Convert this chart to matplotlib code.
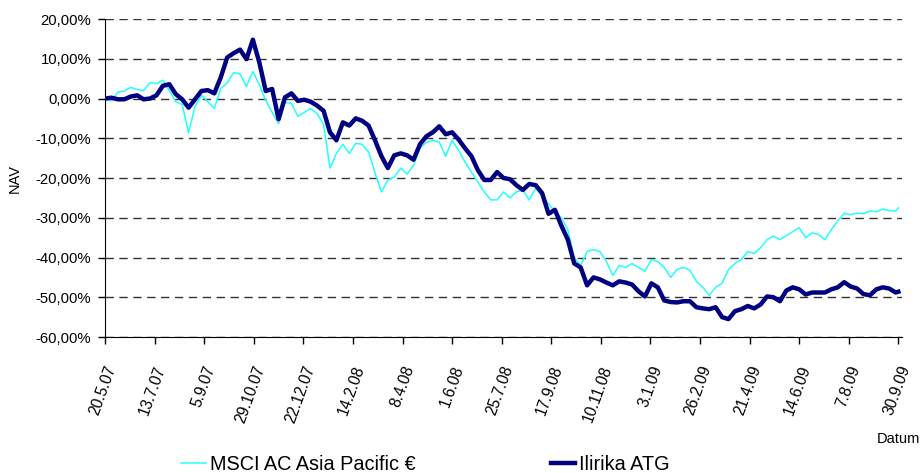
import numpy as np
import pandas as pd
import matplotlib
matplotlib.use('Agg')
import matplotlib.pyplot as plt
import matplotlib.dates as mdates
from matplotlib.ticker import FuncFormatter, MultipleLocator

plt.rcParams['font.family'] = ['Liberation Sans', 'DejaVu Sans']

# weekly readings from 20.5.07, last point 30.9.09
dates = list(pd.date_range('2007-05-20', periods=124, freq='7D')) + [pd.Timestamp('2009-09-30')]

ilirika = [
    0.0, 0.2, -0.2, -0.2, 0.5, 0.8, -0.2, 0.0, 0.8, 3.2,
    3.6, 1.1, -0.2, -2.3, -0.2, 1.9, 2.1, 1.3, 5.3, 10.3,
    11.4, 12.3, 9.9, 14.8, 9.1, 1.9, 2.4, -5.2, 0.3, 1.3,
    -0.6, -0.3, -0.8, -1.8, -3.1, -8.5, -10.5, -6.0, -6.8, -5.0,
    -5.6, -6.8, -10.5, -14.5, -17.5, -14.3, -13.8, -14.3, -15.4, -11.5,
    -9.5, -8.5, -7.0, -9.0, -8.5, -10.3, -12.5, -14.5, -18.0, -20.5,
    -20.5, -18.5, -20.0, -20.3, -21.8, -23.0, -21.5, -21.8, -23.8, -29.0,
    -28.0, -32.0, -35.5, -41.5, -42.5, -47.0, -45.0, -45.5, -46.3, -47.0,
    -46.0, -46.3, -46.8, -48.5, -49.8, -46.5, -47.5, -50.8, -51.2, -51.3,
    -51.0, -51.0, -52.5, -52.8, -53.0, -52.5, -55.0, -55.5, -53.5, -53.0,
    -52.2, -52.8, -51.8, -49.8, -50.0, -51.0, -48.3, -47.5, -48.0, -49.3,
    -48.8, -48.8, -48.8, -48.0, -47.5, -46.2, -47.3, -47.8, -49.2, -49.5,
    -48.0, -47.5, -47.8, -48.8, -48.6,
]

msci = [
    0.0, -0.6, 1.6, 1.9, 2.8, 2.3, 2.0, 4.0, 3.8, 4.6,
    2.0, -0.8, -1.5, -8.6, -2.0, 0.8, -0.8, -2.5, 2.5, 3.9,
    6.5, 6.2, 3.0, 6.8, 3.5, -0.5, -3.5, -6.3, -1.0, -1.2,
    -4.5, -3.5, -2.5, -3.8, -6.5, -17.5, -13.8, -11.5, -13.8, -11.3,
    -11.5, -13.5, -18.7, -23.5, -20.5, -19.8, -17.5, -19.0, -16.8, -12.5,
    -11.0, -10.5, -11.0, -14.5, -10.5, -13.0, -16.0, -18.5, -21.0, -23.5,
    -25.5, -25.5, -23.5, -25.0, -23.5, -23.0, -25.5, -22.6, -24.5, -26.5,
    -28.5, -30.0, -33.0, -40.0, -42.0, -38.5, -38.0, -38.5, -41.0, -44.5,
    -42.0, -42.5, -41.5, -42.5, -43.5, -40.5, -41.0, -42.5, -45.0, -43.0,
    -42.5, -43.2, -46.0, -47.5, -49.5, -47.5, -46.5, -43.0, -41.5, -40.5,
    -38.5, -39.0, -37.5, -35.5, -34.6, -35.5, -34.5, -33.5, -32.5, -35.0,
    -33.8, -34.2, -35.5, -33.0, -30.8, -28.9, -29.2, -28.8, -29.0, -28.3,
    -28.5, -27.8, -28.2, -28.3, -27.5,
]

tick_labels = ['20.5.07', '13.7.07', '5.9.07', '29.10.07', '22.12.07', '14.2.08',
               '8.4.08', '1.6.08', '25.7.08', '17.9.08', '10.11.08', '3.1.09',
               '26.2.09', '21.4.09', '14.6.09', '7.8.09', '30.9.09']
tick_dates = [pd.to_datetime(t, format='%d.%m.%y') for t in tick_labels]

fig = plt.figure(figsize=(9.23, 4.73), dpi=100)
ax = fig.add_axes([0.1138, 0.2875, 0.8635, 0.6723])

ax.plot(dates, msci, color='#22FFFF', lw=1.1, label='MSCI AC Asia Pacific €', zorder=3)
ax.plot(dates, ilirika, color='#000080', lw=3.2, label='Ilirika ATG', zorder=4)

ax.set_ylim(-60, 20)
ax.set_xlim(pd.Timestamp('2007-05-20'), pd.Timestamp('2009-10-04'))
ax.yaxis.set_major_locator(MultipleLocator(10))
ax.yaxis.set_major_formatter(FuncFormatter(lambda v, p: ('%.2f%%' % v).replace('.', ',')))
ax.grid(axis='y', color='#333333', ls=(0, (6, 4)), lw=1)
ax.set_axisbelow(True)

ax.set_xticks(tick_dates)
ax.set_xticklabels(tick_labels, rotation=70, ha='right', rotation_mode='anchor')

for s in ['top', 'right']:
    ax.spines[s].set_visible(False)
ax.tick_params(axis='both', direction='out', length=5, width=1, colors='black')
ax.tick_params(axis='y', labelsize=10.7, pad=5)
ax.tick_params(axis='x', labelsize=11.2, pad=14)

ax.set_ylabel('NAV', fontsize=10.5)
ax.yaxis.set_label_coords(-0.105, 0.5)
ax.set_xlabel('Datum', fontsize=10.5, ha='right')
ax.xaxis.set_label_coords(1.0226, -0.3)

fig.legend(loc='lower center', bbox_to_anchor=(0.461, -0.04), ncol=2, frameon=False,
           fontsize=14.3, handlelength=1.25, handletextpad=0.2, columnspacing=6.8)

fig.savefig('out.png', dpi=100)
